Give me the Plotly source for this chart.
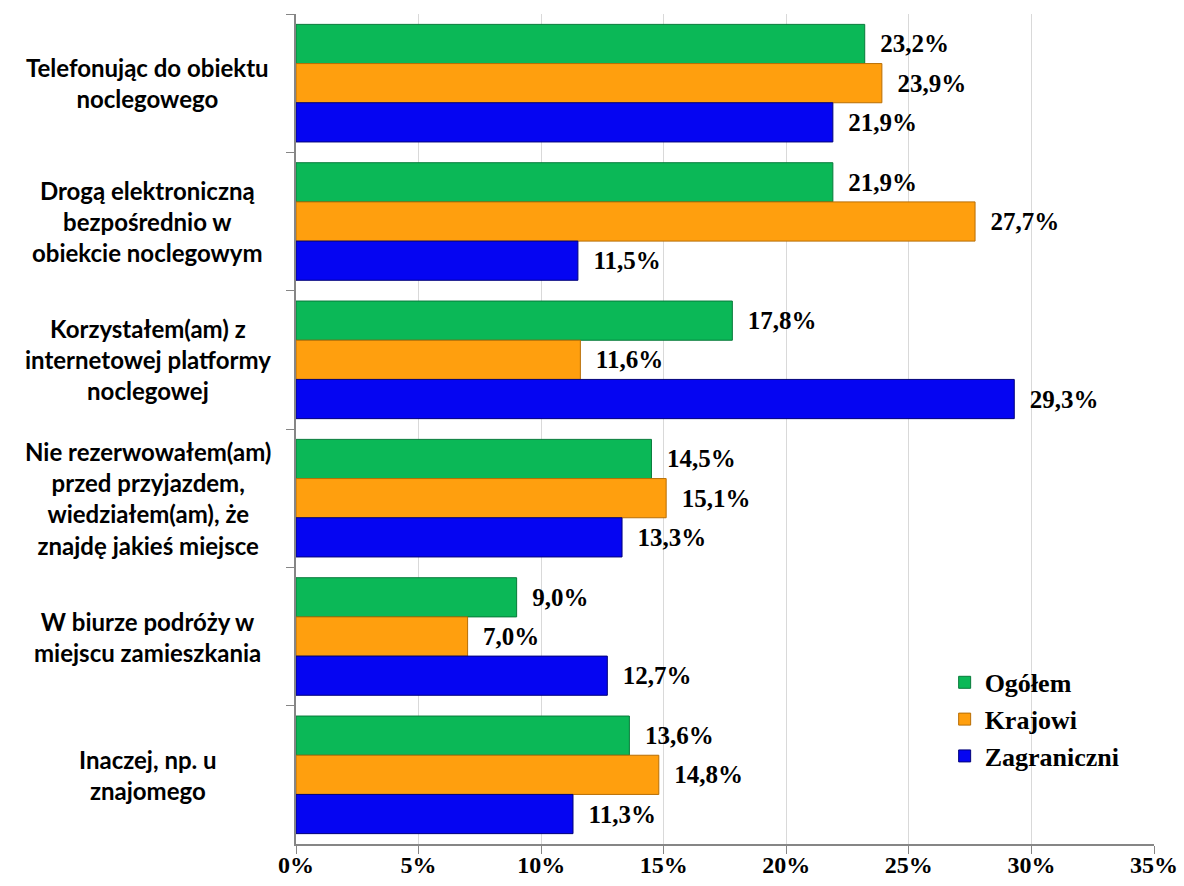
import plotly.graph_objects as go

categories = [
    "Telefonując do obiektu<br>noclegowego",
    "Drogą elektroniczną<br>bezpośrednio w<br>obiekcie noclegowym",
    "Korzystałem(am) z<br>internetowej platformy<br>noclegowej",
    "Nie rezerwowałem(am)<br>przed przyjazdem,<br>wiedziałem(am), że<br>znajdę jakieś miejsce",
    "W biurze podróży w<br>miejscu zamieszkania",
    "Inaczej, np. u<br>znajomego",
]
cat_ids = ["c1", "c2", "c3", "c4", "c5", "c6"]
series_names = ["Ogółem", "Krajowi", "Zagraniczni"]
ogolem = [23.2, 21.9, 17.8, 14.5, 9.0, 13.6]
krajowi = [23.9, 27.7, 11.6, 15.1, 7.0, 14.8]
zagraniczni = [21.9, 11.5, 29.3, 13.3, 12.7, 11.3]
tick_vals = [0, 5, 10, 15, 20, 25, 30, 35]
tick_text = ["0%", "5%", "10%", "15%", "20%", "25%", "30%", "35%"]

colors = ["#0BB857", "#FF9F0E", "#0505F2"]
line_colors = ["#077A3A", "#B86E05", "#02027A"]

def fmt(v):
    return "  " + f"{v:.1f}".replace(".", ",") + "%"

def serif_bold(size):
    return dict(family="Liberation Serif", size=size, color="black", weight="bold")

fig = go.Figure()
for name, vals, c, lc in zip(series_names, [ogolem, krajowi, zagraniczni], colors, line_colors):
    fig.add_trace(go.Bar(
        y=cat_ids, x=vals, name=name, orientation="h",
        marker=dict(color=c, line=dict(color=lc, width=1)),
        text=[fmt(v) for v in vals], textposition="outside",
        textfont=serif_bold(25),
        cliponaxis=False,
    ))

for cid, label in zip(cat_ids, categories):
    fig.add_annotation(
        x=-0.1725, xref="paper", y=cid, yref="y", text=label, showarrow=False,
        xanchor="center", yanchor="middle", align="center",
        font=dict(family="Lato", size=24, color="black", weight="bold"),
    )

fig.update_layout(
    width=1184, height=886,
    margin=dict(l=296, r=30, t=14, b=42, autoexpand=False),
    paper_bgcolor="white", plot_bgcolor="white",
    barmode="group", bargap=0.15, bargroupgap=0,
    font=serif_bold(24),
    legend=dict(
        x=0.756, y=0.223, xanchor="left", yanchor="top",
        font=serif_bold(26),
        bgcolor="rgba(255,255,255,0)", traceorder="normal",
        itemwidth=30, tracegroupgap=0,
    ),
)
fig.update_xaxes(
    range=[0, 35], tickvals=tick_vals, ticktext=tick_text,
    showgrid=True, gridcolor="#D9D9D9", gridwidth=1,
    showline=True, linecolor="#868686", linewidth=1.5,
    ticks="outside", ticklen=8, tickcolor="#868686",
    tickfont=serif_bold(24), automargin=False, ticklabelstandoff=-10,
    zeroline=False,
)
fig.update_yaxes(
    categoryorder="array", categoryarray=cat_ids, autorange="reversed",
    showticklabels=False, showline=True, linecolor="#868686", linewidth=1.5,
    ticks="outside", ticklen=8, tickcolor="#868686", tickson="boundaries",
    showgrid=False, automargin=False,
)

fig.write_html("out.html")
